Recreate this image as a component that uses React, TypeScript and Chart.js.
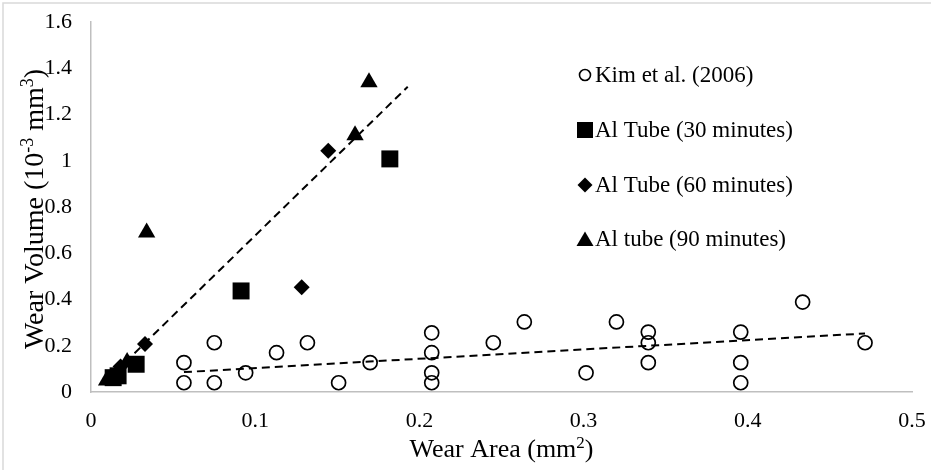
import React, { useEffect, useRef } from 'react';
import { Chart, registerables } from 'chart.js';

Chart.register(...registerables);

// ---- Data ----
const kimX = [0.0566, 0.0566, 0.0751, 0.0751, 0.0942, 0.113, 0.1318, 0.1508, 0.17, 0.2075, 0.2075, 0.2075, 0.2075, 0.245, 0.2639, 0.3015, 0.32, 0.3394, 0.3394, 0.3394, 0.3957, 0.3957, 0.3957, 0.4334, 0.4714];
const kimY = [0.127, 0.04, 0.213, 0.04, 0.083, 0.17, 0.213, 0.04, 0.127, 0.256, 0.17, 0.083, 0.04, 0.213, 0.303, 0.083, 0.303, 0.259, 0.213, 0.127, 0.259, 0.127, 0.04, 0.389, 0.213];

const al30X = [0.0135, 0.0165, 0.0275, 0.0914, 0.182];
const al30Y = [0.062, 0.07, 0.12, 0.437, 1.008];

const al60X = [0.018, 0.0329, 0.1283, 0.1445];
const al60Y = [0.11, 0.2076, 0.453, 1.043];

const al90X = [0.0095, 0.022, 0.0339, 0.1608, 0.1693];
const al90Y = [0.05, 0.13, 0.69, 1.11, 1.34];

const trendAlX = [0.0095, 0.1929];
const trendAlY = [0.05, 1.32];
const trendKimX = [0.0566, 0.4714];
const trendKimY = [0.086, 0.253];

const xTicks = [0, 0.1, 0.2, 0.3, 0.4, 0.5];
const yTicks = [0, 0.2, 0.4, 0.6, 0.8, 1, 1.2, 1.4, 1.6];

const legendLabels = ['Kim et al. (2006)', 'Al Tube (30 minutes)', 'Al Tube (60 minutes)', 'Al tube (90 minutes)'];
const legendShapes = ['circle', 'rect', 'diamond', 'triangle'];

const xTitleParts = [{ t: 'Wear Area (mm' }, { t: '2', sup: true }, { t: ')' }];
const yTitleParts = [{ t: 'Wear Volume (10' }, { t: '-3', sup: true }, { t: ' mm' }, { t: '3', sup: true }, { t: ')' }];

const FONT = '"Liberation Serif", "Times New Roman", serif';

const pts = (xs: number[], ys: number[]) => xs.map((x, i) => ({ x, y: ys[i] }));

function drawRich(ctx: CanvasRenderingContext2D, parts: { t: string; sup?: boolean }[], size: number) {
  const base = `${size}px ${FONT}`;
  const sup = `${Math.round(size * 0.65)}px ${FONT}`;
  let total = 0;
  const widths = parts.map((p) => {
    ctx.font = p.sup ? sup : base;
    const w = ctx.measureText(p.t).width;
    total += w;
    return w;
  });
  let x = -total / 2;
  ctx.textAlign = 'left';
  ctx.textBaseline = 'alphabetic';
  parts.forEach((p, i) => {
    ctx.font = p.sup ? sup : base;
    ctx.fillText(p.t, x, p.sup ? -size * 0.36 : 0);
    x += widths[i];
  });
}

function drawShape(ctx: CanvasRenderingContext2D, shape: string, x: number, y: number) {
  ctx.save();
  ctx.fillStyle = '#000';
  ctx.strokeStyle = '#000';
  ctx.beginPath();
  if (shape === 'circle') {
    ctx.lineWidth = 1.6;
    ctx.arc(x, y, 5.5, 0, Math.PI * 2);
    ctx.stroke();
  } else if (shape === 'rect') {
    ctx.fillRect(x - 8, y - 8, 16, 16);
  } else if (shape === 'diamond') {
    ctx.moveTo(x, y - 7.5);
    ctx.lineTo(x + 7.5, y);
    ctx.lineTo(x, y + 7.5);
    ctx.lineTo(x - 7.5, y);
    ctx.closePath();
    ctx.fill();
  } else {
    ctx.moveTo(x, y - 7.5);
    ctx.lineTo(x + 8.5, y + 7);
    ctx.lineTo(x - 8.5, y + 7);
    ctx.closePath();
    ctx.fill();
  }
  ctx.restore();
}

const decorPlugin = {
  id: 'decor',
  beforeDraw(chart: any) {
    const ctx = chart.ctx as CanvasRenderingContext2D;
    ctx.save();
    ctx.fillStyle = '#fff';
    ctx.fillRect(0, 0, chart.width, chart.height);
    ctx.strokeStyle = '#d9d9d9';
    ctx.lineWidth = 1.5;
    ctx.beginPath();
    ctx.moveTo(3, chart.height);
    ctx.lineTo(3, 3);
    ctx.lineTo(chart.width, 3);
    ctx.stroke();
    ctx.restore();
  },
  afterDraw(chart: any) {
    const ctx = chart.ctx as CanvasRenderingContext2D;
    const area = chart.chartArea;
    ctx.save();
    ctx.fillStyle = '#000';
    // x title
    ctx.save();
    ctx.translate((area.left + area.right) / 2, 457);
    drawRich(ctx, xTitleParts, 26);
    ctx.restore();
    // y title
    ctx.save();
    ctx.translate(43, 209);
    ctx.rotate(-Math.PI / 2);
    drawRich(ctx, yTitleParts, 28);
    ctx.restore();
    // legend
    const rowsY = [75, 130, 185, 239];
    legendLabels.forEach((lab, i) => {
      drawShape(ctx, legendShapes[i], 585, rowsY[i]);
      ctx.font = `23px ${FONT}`;
      ctx.textAlign = 'left';
      ctx.textBaseline = 'middle';
      ctx.fillStyle = '#000';
      ctx.fillText(lab, 595, rowsY[i] + 1);
    });
    ctx.restore();
  },
};

const fmt = (v: number) => String(Math.round(v * 10) / 10);

export default function App() {
  const ref = useRef<HTMLCanvasElement | null>(null);
  useEffect(() => {
    document.body.style.margin = '0';
    if (!ref.current) return;
    const dashed = {
      borderColor: '#000',
      borderWidth: 2,
      borderDash: [8, 5],
      pointRadius: 0,
      showLine: true,
      fill: false,
    };
    const chart = new Chart(ref.current, {
      type: 'scatter',
      data: {
        datasets: [
          { label: 'trendAl', data: pts(trendAlX, trendAlY), ...dashed },
          { label: 'trendKim', data: pts(trendKimX, trendKimY), ...dashed },
          {
            label: legendLabels[0],
            data: pts(kimX, kimY),
            pointStyle: 'circle',
            pointRadius: 7,
            borderWidth: 1.7,
            borderColor: '#000',
            backgroundColor: 'rgba(0,0,0,0)',
          },
          {
            label: legendLabels[1],
            data: pts(al30X, al30Y),
            pointStyle: 'rect',
            pointRadius: 12,
            borderWidth: 0,
            backgroundColor: '#000',
            borderColor: '#000',
          },
          {
            label: legendLabels[2],
            data: pts(al60X, al60Y),
            pointStyle: 'rectRot',
            pointRadius: 8,
            borderWidth: 0,
            backgroundColor: '#000',
            borderColor: '#000',
          },
          {
            label: legendLabels[3],
            data: pts(al90X, al90Y),
            pointStyle: 'triangle',
            pointRadius: 10,
            borderWidth: 0,
            backgroundColor: '#000',
            borderColor: '#000',
          },
        ],
      },
      options: {
        responsive: false,
        animation: false,
        layout: { padding: { left: 0, top: 22, right: 19, bottom: 0 } },
        plugins: { legend: { display: false }, tooltip: { enabled: false } },
        scales: {
          x: {
            type: 'linear',
            min: 0,
            max: 0.5,
            afterBuildTicks: (s: any) => {
              s.ticks = xTicks.map((v) => ({ value: v }));
            },
            afterFit: (s: any) => {
              s.height = 78;
              s.paddingLeft = 0;
              s.paddingRight = 0;
              s.paddingTop = 0;
              s.paddingBottom = 0;
            },
            grid: { display: false, drawTicks: false },
            border: { display: true, color: '#bfbfbf', width: 1.5 },
            ticks: {
              padding: 16,
              color: '#000',
              font: { family: FONT, size: 22 },
              callback: (v: any) => fmt(Number(v)),
              maxRotation: 0,
            },
          },
          y: {
            type: 'linear',
            min: 0,
            max: 1.6,
            afterBuildTicks: (s: any) => {
              s.ticks = yTicks.map((v) => ({ value: v }));
            },
            afterFit: (s: any) => {
              s.width = 91;
              s.paddingLeft = 0;
              s.paddingRight = 0;
              s.paddingTop = 0;
              s.paddingBottom = 0;
            },
            grid: { display: false, drawTicks: false },
            border: { display: true, color: '#bfbfbf', width: 1.5 },
            ticks: {
              padding: 19,
              color: '#000',
              font: { family: FONT, size: 22 },
              callback: (v: any) => fmt(Number(v)),
            },
          },
        },
      },
      plugins: [decorPlugin],
    } as any);
    return () => chart.destroy();
  }, []);
  return <canvas ref={ref} width={931} height={470} style={{ display: 'block' }} />;
}
